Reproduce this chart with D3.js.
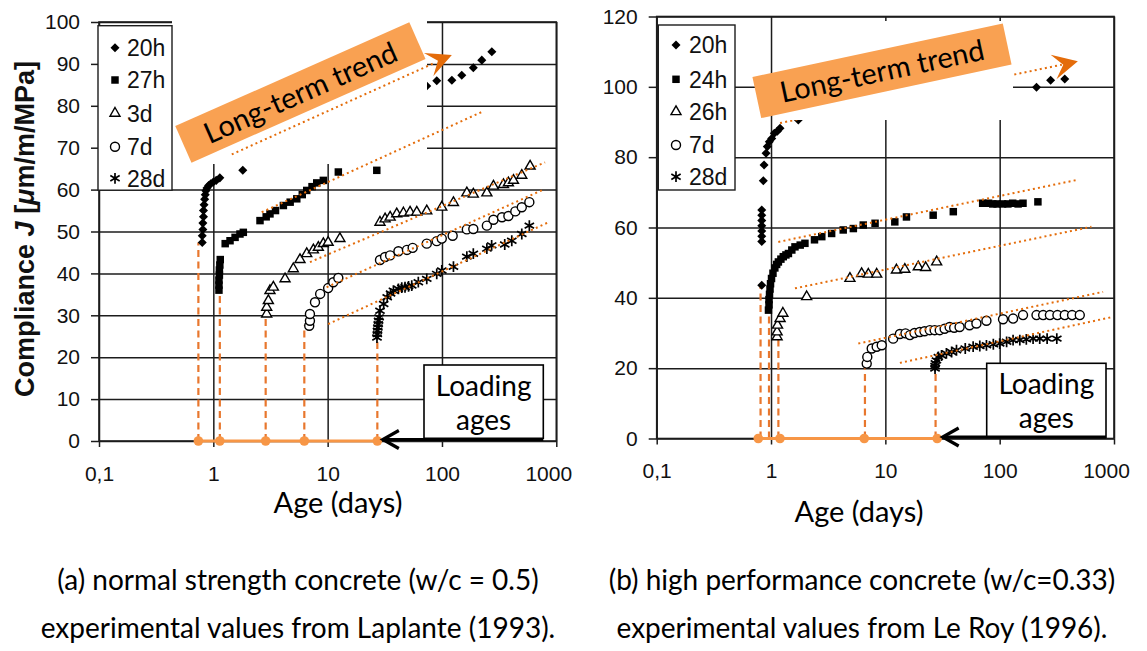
<!DOCTYPE html>
<html>
<head>
<meta charset="utf-8">
<script src="https://cdn.jsdelivr.net/npm/d3@7"></script>
<style>
  html, body { margin: 0; padding: 0; background: #fff; }
  svg { display: block; }
</style>
</head>
<body>
<svg id="fig" width="1147" height="651"></svg>
<script>
// ---------------- data ----------------
const xTickValues = [0.1, 1, 10, 100, 1000];
const xTickLabels = ["0,1", "1", "10", "100", "1000"];
const yTicksA = [0, 10, 20, 30, 40, 50, 60, 70, 80, 90, 100];
const yTicksB = [0, 20, 40, 60, 80, 100, 120];

const seriesNamesA = ["20h", "27h", "3d", "7d", "28d"];
const seriesNamesB = ["20h", "24h", "26h", "7d", "28d"];

// loading ages (days)
const loadingAgesA = [0.74, 1.14, 2.87, 6.25, 27.2];
const loadingAgesB = [0.81, 0.96, 1.16, 6.63, 27.5];
const loadingDotsB = [0.774, 1.198, 6.54, 28.4];

// (a) normal strength concrete: [age (days), compliance J]
const a20h = [[0.80,47.4],[0.80,49.0],[0.81,50.5],[0.81,52.0],[0.82,53.5],[0.82,55.0],[0.83,56.4],[0.84,57.7],
  [0.85,58.8],[0.86,59.7],[0.88,60.4],[0.91,61.0],[0.95,61.4],[1.00,61.8],[1.06,62.2],[1.14,62.8],[1.81,64.6],
  [73.6,84.7],[90,86.0],[122,86.1],[149,87.3],[188,89.1],[223,90.9],[273,92.9]];
const a27h = [[1.12,36.0],[1.12,37.2],[1.12,38.4],[1.13,39.6],[1.13,40.8],[1.14,42.0],[1.15,43.3],[1.27,47.1],
  [1.40,47.8],[1.55,48.6],[1.71,49.4],[1.83,49.8],[2.56,52.6],[2.9,53.5],[3.13,54.2],[3.5,55.0],[4.1,56.2],
  [4.7,57.0],[5.37,57.8],[6.0,58.8],[6.56,59.8],[7.3,60.7],[8.03,61.6],[9.17,62.2],[12.4,64.2],[26.9,64.6]];
const a3d = [[2.93,30.3],[2.93,31.9],[3.03,33.5],[3.13,35.9],[3.35,36.7],[4.24,38.7],[5.01,41.1],[5.73,43.3],
  [6.56,44.7],[7.5,45.6],[8.29,46.2],[9.17,47.1],[10.1,47.4],[12.8,48.3],[28.7,52.2],[31.8,53.0],[35.2,53.4],
  [40.2,54.2],[46,54.4],[52.6,54.6],[60.2,54.6],[73.6,54.9],[99.6,55.8],[126,56.9],[165,59.2],[188,58.9],
  [247,59.2],[282,60.8],[345,61.2],[381,61.6],[422,62.2],[499,63.4],[590,65.6]];
const a7d = [[6.9,27.5],[7.0,28.7],[7.0,30.3],[7.75,33.1],[8.6,35.1],[10.1,36.5],[11.2,37.9],[12.4,38.9],
  [28.7,43.2],[31.8,43.9],[35.2,44.3],[41.6,45.3],[49.4,45.6],[55.4,46.1],[73.6,47.1],[90,47.7],[99.6,48.3],
  [124,49.0],[165,50.5],[188,50.6],[247,51.4],[282,52.8],[335,53.4],[381,53.7],[438,54.8],[499,55.8],[581,57.0]];
const a28d = [[27.0,24.7],[27.2,25.5],[27.3,26.3],[27.5,27.1],[27.7,27.9],[27.9,28.7],[28.2,29.5],[28.7,31.1],
  [30.9,32.7],[33.2,34.3],[35.5,35.2],[37.6,35.9],[41.6,36.3],[44.5,36.6],[47.5,36.7],[51,36.9],[54.4,37.1],
  [62.1,37.9],[73.6,38.7],[90,39.9],[99.6,40.7],[126,41.6],[165,44.0],[188,44.7],[247,45.9],[272,46.7],
  [354,46.9],[408,47.8],[499,49.4],[581,51.4]];

// (b) high performance concrete: [age (days), compliance J]
const b20h = [[0.83,43.6],[0.83,56.0],[0.83,57.5],[0.83,59.0],[0.83,60.5],[0.83,62.0],[0.83,63.5],[0.83,65.0],
  [0.856,73.3],[0.869,77.8],[0.905,81.1],[0.928,83.0],[0.966,84.4],[1.014,85.3],[1.069,86.8],[1.135,87.4],
  [1.198,88.2],[1.733,90.6],[210,99.9],[279,101.9],[371,102.2]];
const b24h = [[0.95,36.5],[0.96,38.0],[0.96,39.5],[0.97,41.0],[0.98,42.5],[0.99,44.0],[1.01,45.5],[1.04,47.0],
  [1.08,48.5],[1.12,49.5],[1.16,50.2],[1.22,51.0],[1.28,51.7],[1.35,52.2],[1.42,52.6],[1.52,53.6],[1.62,54.5],
  [1.8,55.0],[1.98,55.5],[2.4,56.5],[2.78,57.4],[3.39,58.3],[4.28,59.3],[5.25,59.7],[6.41,60.7],[8.13,61.2],
  [12.1,61.6],[15.3,63.0],[26.2,63.5],[39.3,64.5],[71,66.9],[80,66.9],[87,66.7],[95,66.7],[106,66.7],
  [118,66.7],[130,66.9],[145,66.7],[160,66.9],[216,67.3]];
const b26h = [[1.13,28.9],[1.13,30.3],[1.14,32.2],[1.2,34.1],[1.27,35.6],[2.05,40.3],[4.9,45.5],[6.2,46.9],
  [7.1,46.7],[8.4,46.7],[12.5,47.9],[14.8,48.1],[19.4,48.8],[22.5,48.6],[28.1,50.2]];
const b7d = [[6.87,21.3],[6.95,23.2],[7.6,25.6],[8.4,26.1],[9.3,26.5],[11.7,28.4],[13.4,29.7],[15,29.9],
  [16.4,29.4],[18,30.0],[20,30.3],[22,30.5],[24.5,30.8],[27,30.8],[29.9,30.8],[33,31.2],[36.5,31.7],[40,31.5],
  [44.6,31.7],[54.5,32.2],[62.6,32.7],[76.6,33.5],[107,33.9],[131,34.1],[160,35.1],[210,35.1],[240,35.1],
  [275,35.1],[320,35.1],[371,35.1],[430,35.1],[502,35.1]];
const b28d = [[27.2,19.9],[27.2,20.6],[27.4,21.4],[28,22.2],[29.1,23.2],[31,23.6],[34.2,24.2],[38,24.6],
  [41.9,25.1],[50,25.6],[58.6,26.1],[67,26.3],[76.6,26.5],[88,26.8],[100,27.0],[115,27.5],[131,28.0],
  [150,28.0],[171,28.2],[196,28.4],[224,28.4],[260,28.4],[316,28.4]];

// long-term trend lines: [[age, J], [age, J]]
const trendA = [[[1.45,68.4],[84,90.1]], [[2.65,54.6],[230,78.7]], [[7.0,42.7],[798,66.5]],
  [[9.8,36.7],[771,60.0]], [[10.1,27.9],[853,52.2]]];
const trendB = [[[1.2,89.7],[350,106.3]], [[1.158,55.9],[470,73.5]], [[1.62,42.7],[635,60.2]],
  [[5.8,27.0],[803,41.7]], [[13.4,21.5],[982,34.6]]];
const trendTipA = [122, 92.1];
const trendTipB = [483, 107.3];

const captionsA = ["(a) normal strength concrete (w/c = 0.5)", "experimental values from Laplante (1993)."];
const captionsB = ["(b) high performance concrete (w/c=0.33)", "experimental values from Le Roy (1996)."];

// ---------------- styles ----------------
const INK = "#1c1c1c";
const ORANGE_FILL = "#F9A152";
const ORANGE_LIGHT = "#F79646";
const ORANGE_DARK = "#E46C0A";
const ORANGE_DASH = "#E8772E";
const SANS = "'Liberation Sans', Arial, sans-serif";
const HUMANIST = "Lato, 'Open Sans', sans-serif";

const markerStyles = [
  { type: d3.symbolDiamond2, size: 52, fill: "#000", stroke: "none", sw: 0 },
  { type: d3.symbolSquare, size: 56, fill: "#000", stroke: "none", sw: 0 },
  { type: d3.symbolTriangle2, size: 72, fill: "#fff", stroke: "#000", sw: 1.4 },
  { type: d3.symbolCircle, size: 64, fill: "#fff", stroke: "#000", sw: 1.4 },
  { type: d3.symbolAsterisk, size: 82, fill: "none", stroke: "#000", sw: 1.7 }
];

const svg = d3.select("#fig");
svg.append("rect").attr("width", 1147).attr("height", 651).attr("fill", "#fff");

const panels = [
  {
    left: 99, right: 556.3, bottom: 441, top: 22, yMax: 100, yTicks: yTicksA,
    names: seriesNamesA, series: [a20h, a27h, a3d, a7d, a28d],
    loading: loadingAgesA, dots: loadingAgesA, trends: trendA, tip: trendTipA, tipAngle: -22,
    legend: { x: 98, y: 25.7, w: 74, h: 164.5, mx: 115, tx: 127, rows: [47.7, 80, 113.3, 146.7, 178.3] },
    mask: { x: 172, y: 12, w: 255, h: 152 }, maskOverTrends: false,
    label: { cx: 300.4, cy: 92.5, angle: -23.9, w: 256, h: 40 },
    loadBox: { x: 424, y: 365, w: 119.3, h: 73.3 },
    ageLabel: { x: 338, y: 513 },
    captions: captionsA, captionX: 298
  },
  {
    left: 656.7, right: 1114, bottom: 438.5, top: 16.5, yMax: 120, yTicks: yTicksB,
    names: seriesNamesB, series: [b20h, b24h, b26h, b7d, b28d],
    loading: loadingAgesB, dots: loadingDotsB, trends: trendB, tip: trendTipB, tipAngle: -13.5,
    legend: { x: 658.3, y: 25, w: 76.7, h: 165, mx: 676, tx: 689, rows: [45, 79.3, 111.7, 145, 176.7] },
    mask: { x: 775, y: 21, w: 238, h: 99 }, maskOverTrends: true,
    label: { cx: 882, cy: 70.8, angle: -12.06, w: 256, h: 42 },
    loadBox: { x: 986.7, y: 363.3, w: 119.3, h: 74 },
    ageLabel: { x: 859, y: 522 },
    captions: captionsB, captionX: 862
  }
];

function drawMarkers(sel, data, style, xs, ys) {
  const gen = d3.symbol().type(style.type).size(style.size);
  sel.selectAll("path").data(data).join("path")
    .attr("d", gen)
    .attr("transform", d => `translate(${xs(d[0])},${ys(d[1])})`)
    .attr("fill", style.fill)
    .attr("stroke", style.stroke)
    .attr("stroke-width", style.sw);
}

panels.forEach(p => {
  const g = svg.append("g");
  const x = d3.scaleLog().domain([0.1, 1000]).range([p.left, p.right]);
  const y = d3.scaleLinear().domain([0, p.yMax]).range([p.bottom, p.top]);
  const w = p.right - p.left, h = p.bottom - p.top;

  // grid
  g.append("g").attr("transform", `translate(${p.left},0)`)
    .call(d3.axisLeft(y).tickValues(p.yTicks).tickSize(-w).tickFormat(""))
    .call(s => s.select(".domain").remove())
    .call(s => s.selectAll("line").attr("stroke", INK).attr("stroke-width", 1.5));
  g.append("g").attr("transform", `translate(0,${p.bottom})`)
    .call(d3.axisBottom(x).tickValues(xTickValues).tickSize(-h).tickFormat(""))
    .call(s => s.select(".domain").remove())
    .call(s => s.selectAll("line").attr("stroke", INK).attr("stroke-width", 1.5));

  // axes with tick labels
  g.append("g").attr("transform", `translate(${p.left},0)`)
    .call(d3.axisLeft(y).tickValues(p.yTicks).tickSize(8).tickPadding(11))
    .call(s => s.select(".domain").remove())
    .call(s => s.selectAll("line").attr("stroke", INK).attr("stroke-width", 1.5))
    .call(s => s.selectAll("text").attr("font-family", SANS).attr("font-size", 21).attr("fill", "#111"));
  const xa = g.append("g").attr("transform", `translate(0,${p.bottom})`)
    .call(d3.axisBottom(x).tickValues(xTickValues).tickFormat((d, i) => xTickLabels[i]).tickSize(6).tickPadding(19))
    .call(s => s.select(".domain").remove())
    .call(s => s.selectAll("line").attr("stroke", INK).attr("stroke-width", 1.5))
    .call(s => s.selectAll("text").attr("font-family", SANS).attr("font-size", 21).attr("fill", "#111"));
  xa.selectAll(".tick").filter(d => d === 1000).select("text").attr("dx", -8);

  // frame
  g.append("rect").attr("x", p.left).attr("y", p.top).attr("width", w).attr("height", h)
    .attr("fill", "none").attr("stroke", INK).attr("stroke-width", 1.6);

  // dashed drop lines at loading ages
  g.append("g").selectAll("line").data(p.loading).join("line")
    .attr("x1", d => x(d)).attr("x2", d => x(d))
    .attr("y1", y(0)).attr("y2", (d, i) => y(p.series[i][0][1]))
    .attr("stroke", ORANGE_DASH).attr("stroke-width", 2.2).attr("stroke-dasharray", "7 4.5");

  // data markers
  p.series.forEach((s, i) => drawMarkers(g.append("g"), s, markerStyles[i], x, y));

  const trendLine = d3.line().x(d => x(d[0])).y(d => y(d[1]));
  const drawTrends = () => g.append("g").selectAll("path").data(p.trends).join("path")
    .attr("d", trendLine).attr("fill", "none")
    .attr("stroke", ORANGE_DARK).attr("stroke-width", 2).attr("stroke-dasharray", "2 3.2");
  const drawMask = () => g.append("rect").attr("x", p.mask.x).attr("y", p.mask.y)
    .attr("width", p.mask.w).attr("height", p.mask.h).attr("fill", "#fff");

  if (p.maskOverTrends) { drawTrends(); drawMask(); } else { drawMask(); drawTrends(); }

  // legend
  const L = p.legend;
  g.append("rect").attr("x", L.x).attr("y", L.y).attr("width", L.w).attr("height", L.h)
    .attr("fill", "#fff").attr("stroke", INK).attr("stroke-width", 1.4);
  p.names.forEach((name, i) => {
    const st = markerStyles[i];
    g.append("path").attr("d", d3.symbol().type(st.type).size(st.size)())
      .attr("transform", `translate(${L.mx},${L.rows[i]})`)
      .attr("fill", st.fill).attr("stroke", st.stroke).attr("stroke-width", st.sw);
    g.append("text").attr("x", L.tx).attr("y", L.rows[i]).attr("dy", "0.36em")
      .attr("font-family", SANS).attr("font-size", 23).attr("fill", "#111").text(name);
  });

  // long-term trend label and arrowhead
  const lb = g.append("g").attr("transform", `translate(${p.label.cx},${p.label.cy}) rotate(${p.label.angle})`);
  lb.append("rect").attr("x", -p.label.w / 2).attr("y", -p.label.h / 2)
    .attr("width", p.label.w).attr("height", p.label.h).attr("fill", ORANGE_FILL);
  lb.append("text").attr("text-anchor", "middle").attr("dy", "0.36em")
    .attr("font-family", HUMANIST).attr("font-size", 29).attr("fill", "#000").text("Long-term trend");
  g.append("path").attr("d", "M0,0 L-25,-12.5 L-15,0 L-25,12.5 Z")
    .attr("transform", `translate(${x(p.tip[0])},${y(p.tip[1])}) rotate(${p.tipAngle})`)
    .attr("fill", ORANGE_DARK);

  // loading ages: connecting line, dots, box and arrow
  const d0 = p.dots[0], d1 = p.dots[p.dots.length - 1];
  g.append("line").attr("x1", x(d0)).attr("x2", x(d1)).attr("y1", y(0)).attr("y2", y(0))
    .attr("stroke", ORANGE_LIGHT).attr("stroke-width", 3.2);
  g.append("g").selectAll("circle").data(p.dots).join("circle")
    .attr("cx", d => x(d)).attr("cy", y(0)).attr("r", 4.8).attr("fill", ORANGE_LIGHT);

  const B = p.loadBox;
  g.append("rect").attr("x", B.x).attr("y", B.y).attr("width", B.w).attr("height", B.h)
    .attr("fill", "#fff").attr("stroke", "#000").attr("stroke-width", 1.6);
  g.append("text").attr("x", B.x + B.w / 2).attr("y", B.y + 31).attr("text-anchor", "middle")
    .attr("font-family", HUMANIST).attr("font-size", 28).attr("fill", "#000").text("Loading");
  g.append("text").attr("x", B.x + B.w / 2).attr("y", B.y + 65).attr("text-anchor", "middle")
    .attr("font-family", HUMANIST).attr("font-size", 28).attr("fill", "#000").text("ages");
  const tipX = x(d1) + 5.5, ay = y(0) - 1.5;
  g.append("line").attr("x1", B.x + B.w).attr("x2", tipX + 1).attr("y1", ay).attr("y2", ay)
    .attr("stroke", "#000").attr("stroke-width", 3.2);
  g.append("path").attr("d", `M${tipX + 16},${ay - 9} L${tipX},${ay} L${tipX + 16},${ay + 9}`)
    .attr("fill", "none").attr("stroke", "#000").attr("stroke-width", 3.2)
    .attr("stroke-linejoin", "miter");

  // axis title and captions
  g.append("text").attr("x", p.ageLabel.x).attr("y", p.ageLabel.y).attr("text-anchor", "middle")
    .attr("font-family", HUMANIST).attr("font-size", 29).attr("fill", "#000").text("Age (days)");
  p.captions.forEach((c, i) => {
    g.append("text").attr("x", p.captionX).attr("y", 590 + i * 48).attr("text-anchor", "middle")
      .attr("font-family", HUMANIST).attr("font-size", 28).attr("fill", "#000").text(c);
  });
});

// y-axis title of panel (a)
const yt = svg.append("text").attr("transform", "translate(34,229) rotate(-90)")
  .attr("text-anchor", "middle").attr("font-family", SANS).attr("font-size", 27)
  .attr("font-weight", "bold").attr("fill", "#111");
yt.append("tspan").text("Compliance ");
yt.append("tspan").attr("font-style", "italic").text("J");
yt.append("tspan").text(" [");
yt.append("tspan").attr("font-style", "italic").text("μ");
yt.append("tspan").text("m/m/MPa]");
</script>
</body>
</html>
